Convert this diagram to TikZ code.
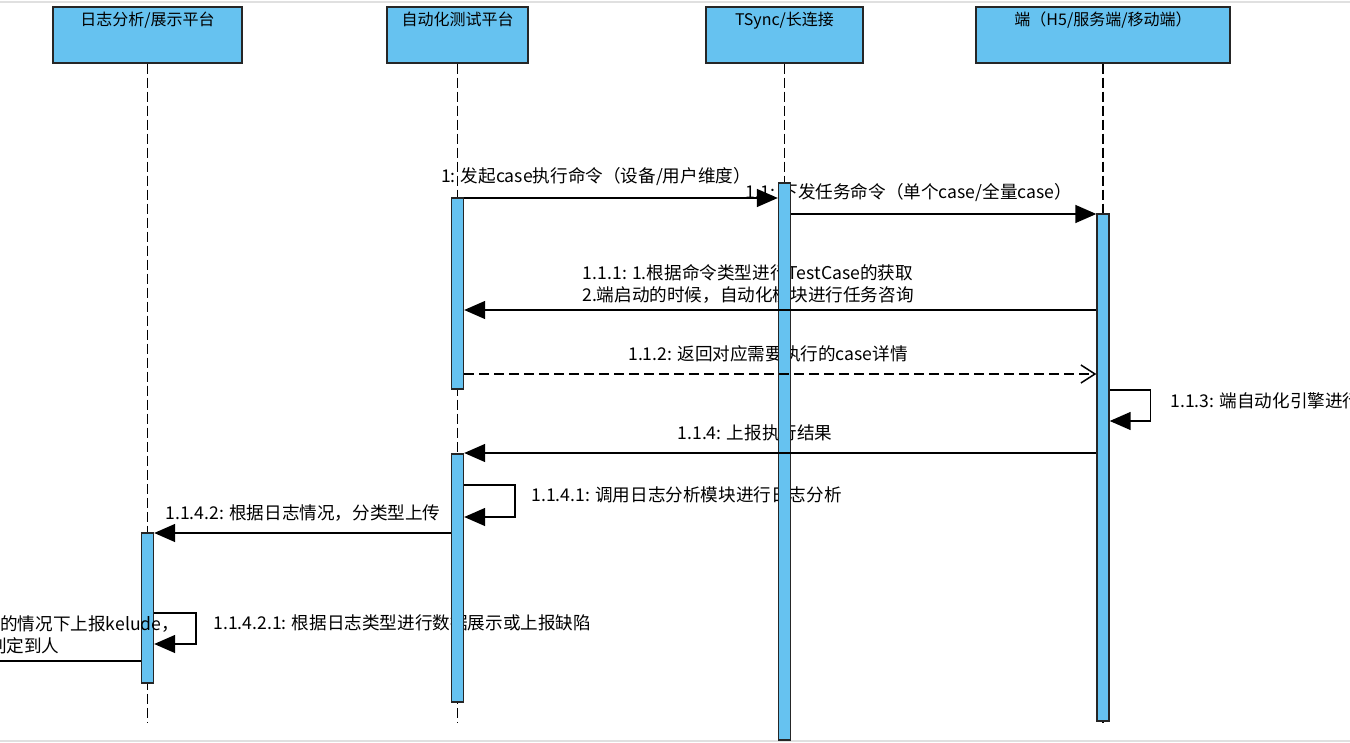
\documentclass[tikz,border=0pt]{standalone}
\usepackage{fontspec}
\setmainfont{Noto Sans CJK SC}
\usepackage{tikz}
\usetikzlibrary{arrows.meta}
\definecolor{barblue}{rgb}{0.40, 0.76, 0.94}
\tikzstyle{head}=[draw=black!85,fill=barblue,line width=0.75pt,minimum height=28pt,inner sep=0pt]
\tikzstyle{headtext}=[anchor=north,inner sep=0pt,yshift=-2.5pt,font=\fontsize{8}{10}\selectfont]
\tikzstyle{bar}=[draw=black!85,fill=barblue,line width=0.7pt,minimum width=6pt,inner sep=0pt]
\tikzstyle{lifeline}=[black,line width=0.7pt,dash pattern=on 5pt off 2pt]
\tikzstyle{msg}=[black,line width=0.75pt,-{Triangle[length=10.5pt,width=9pt]}]
\tikzstyle{reply}=[black,line width=0.75pt,dash pattern=on 5pt off 2.5pt,-{Straight Barb[length=7pt,width=9pt]}]
\tikzstyle{lbl}=[inner sep=0pt,font=\fontsize{8.8}{11}\selectfont,align=center]
\newcommand{\actbar}[4]{
  \node[bar,minimum height={(#4-#3)*0.5pt}] (#1) at (#2,{(#3+#4)/2}) {};
}

\begin{document}
\begin{tikzpicture}[x=0.5pt,y=-0.5pt]
\useasboundingbox (0,0) rectangle (1350,743);
\draw[black!12,line width=1pt] (0,2) -- (1350,2);
\draw[black!12,line width=1pt] (0,741) -- (1350,741);

% heads
\node[head,minimum width=94.5pt,label={[headtext]north:日志分析/展示平台}] (log) at (147.5,35) {};
\node[head,minimum width=70.5pt,label={[headtext]north:自动化测试平台}] (auto) at (457.5,35) {};
\node[head,minimum width=78.5pt,label={[headtext]north:TSync/长连接}] (tsync) at (784.5,35) {};
\node[head,minimum width=127pt,label={[headtext]north:端（H5/服务端/移动端）}] (term) at (1103,35) {};

\coordinate (lend) at (0,723);
\foreach \h in {log,auto,tsync,term}
  \draw[lifeline] (\h.south) -- (\h.south |- lend);

% labels
\node[lbl] (l1) at (596,177) {1: 发起case执行命令（设备/用户维度）};
\node[lbl] (l11) at (909,193) {1.1: 下发任务命令（单个case/全量case）};
\node[lbl] (l111) at (748,284) {1.1.1: 1.根据命令类型进行TestCase的获取\\2.端启动的时候，自动化模块进行任务咨询};
\node[lbl] (l112) at (768,354) {1.1.2: 返回对应需要执行的case详情};
\node[lbl,anchor=west] (l113) at (1170,401) {1.1.3: 端自动化引擎进行};
\node[lbl] (l114) at (755,433) {1.1.4: 上报执行结果};
\node[lbl,anchor=west] (l1141) at (531,495) {1.1.4.1: 调用日志分析模块进行日志分析};
\node[lbl] (l1142) at (303,513) {1.1.4.2: 根据日志情况，分类型上传};
\node[lbl,anchor=west] (l11421) at (213,623) {1.1.4.2.1: 根据日志类型进行数据展示或上报缺陷};

% activation bars
\actbar{logbar}{147.5}{533}{683}
\actbar{autobarA}{457.5}{198}{389}
\actbar{autobarB}{457.5}{454}{702}
\actbar{tsbar}{784.5}{183}{740}
\actbar{termbar}{1103}{214}{721}

\node[lbl,anchor=west] (lkel1) at (0,624) {的情况下上报kelude，};
\node[lbl,anchor=east] (lkel2) at (60,646) {判定到人};

% message levels
\coordinate (m1) at (0,198);
\coordinate (m11) at (0,214);
\coordinate (m111) at (0,310);
\coordinate (m112) at (0,374);
\coordinate (m113a) at (0,390);
\coordinate (m113b) at (0,421);
\coordinate (m114) at (0,453);
\coordinate (m1141a) at (0,485);
\coordinate (m1141b) at (0,517);
\coordinate (m1142) at (0,533);
\coordinate (m11421a) at (0,613);
\coordinate (m11421b) at (0,644);
\coordinate (offl) at (0,661);

\draw[msg] (autobarA.east |- m1) -- (tsbar.west |- m1);
\draw[msg] (tsbar.east |- m11) -- (termbar.west |- m11);
\draw[msg] (termbar.west |- m111) -- (autobarA.east |- m111);
\draw[reply] (autobarA.east |- m112) -- (termbar.west |- m112);
\draw[msg] (termbar.east |- m113a) -- ++(41,0) |- (termbar.east |- m113b);
\draw[msg] (termbar.west |- m114) -- (autobarB.east |- m114);
\draw[msg] (autobarB.east |- m1141a) -- ++(51,0) |- (autobarB.east |- m1141b);
\draw[msg] (autobarB.west |- m1142) -- (logbar.east |- m1142);
\draw[msg] (logbar.east |- m11421a) -- ++(42,0) |- (logbar.east |- m11421b);
\draw[black,line width=0.75pt] (logbar.west |- offl) -- (offl);

\end{tikzpicture}
\end{document}
